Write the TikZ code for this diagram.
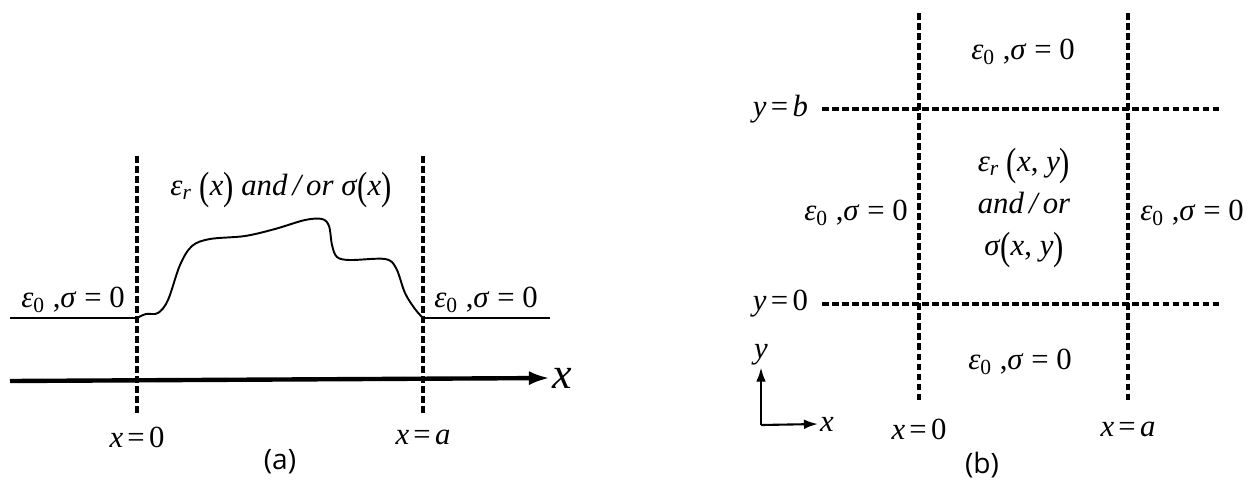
\documentclass[tikz,border=0pt]{standalone}
\usepackage{fontspec}
\usepackage{graphicx}
\setmainfont{Liberation Serif}
\newfontfamily\capfont{Open Sans}
\usetikzlibrary{arrows.meta,calc}
\newcommand{\lp}{\raisebox{-0.14em}{\scalebox{1}[1.28]{(}}}
\newcommand{\rp}{\raisebox{-0.14em}{\scalebox{1}[1.28]{)}}}
\newcommand{\eo}{\textit{ε}\textsubscript{0}}
\newcommand{\er}{\textit{ε}\textsubscript{\textit{r}}}
\newcommand{\eq}{\hspace{0.14em}=\hspace{0.14em}}
\newcommand{\vac}{\eo\ ,\textit{σ}\hspace{0.25em}=\hspace{0.25em}0}

\begin{document}
\begin{tikzpicture}[
  x=0.02cm, y=-0.02cm,
  font=\fontsize{17.5}{21}\selectfont,
  bnd/.style={line width=2.6pt, dash pattern=on 3.8pt off 1.9pt},
  gnd/.style={line width=1.1pt},
  axis/.style={line width=2.5pt, -{Latex[length=12pt,width=8pt]}},
  ax/.style={line width=1.2pt, -{Latex[length=8pt,width=5.5pt]}},
  lab/.style={inner sep=1pt},
  captxt/.style={font=\capfont\fontsize{16}{19}\selectfont},
]
\useasboundingbox (0,0) rectangle (1253,481);
% (a) one-dimensional profile
\coordinate (a0top) at (137,156);
\coordinate (a0bot) at (137,413);
\coordinate (aatop) at (423,156);
\coordinate (aabot) at (423,413);
\draw[bnd] (a0top) -- (a0bot);
\draw[bnd] (aatop) -- (aabot);
\coordinate (gl) at (10,318);
\coordinate (gr) at (550,318);
\draw[gnd] (gl) -- (a0top |- gl);
\draw[gnd] (aatop |- gr) -- (gr);
\draw[gnd] plot[smooth, tension=0.55] coordinates {(137,318) (146,314) (158,313)
  (168,300) (180,265) (192,246) (210,239) (245,236) (275,229) (305,220) (322,219)
  (329,226) (332,245) (337,257) (350,260) (385,259) (396,268) (405,293) (415,309) (423,318)};
\coordinate (xs) at (10,381);
\node[lab, anchor=west, font=\fontsize{25}{28}\selectfont] (xax) at (550,378) {\textit{x}};
\draw[axis] (xs) -- (xax.west);
\node[lab] (epsl) at (73,300) {\vac};
\node[lab] (epsr) at (486,300) {\vac};
\node[lab] (epsx) at (281,190) {\er\ \lp\textit{x}\rp\ \textit{and\,/\,or}\ \textit{σ}\lp\textit{x}\rp};
\node[lab] (xa0) at (137,437) {\textit{x}\eq0};
\node[lab] (xaa) at (423,437) {\textit{x}\eq\textit{a}};
\node[captxt] (capa) at (280,462) {(a)};
% (b) two-dimensional region
\coordinate (b0top) at (919,13);
\coordinate (b0bot) at (919,401);
\coordinate (batop) at (1128,13);
\coordinate (babot) at (1128,401);
\node[lab, anchor=east] (yb) at (810,109) {\textit{y}\eq\textit{b}};
\node[lab, anchor=east] (y0) at (810,304) {\textit{y}\eq0};
\coordinate (ybend) at (1222,109);
\coordinate (y0end) at (1222,304);
\draw[bnd] (b0top) -- (b0bot);
\draw[bnd] (batop) -- (babot);
\draw[bnd] (yb.east) ++(12,0) -- (ybend);
\draw[bnd] (y0.east) ++(12,0) -- (y0end);
\node[lab] (epst) at (1023,52) {\vac};
\node[lab] (epsw) at (856,213) {\vac};
\node[lab] (epse) at (1192,213) {\vac};
\node[lab] (epsb) at (1020,362) {\vac};
\node[lab, align=center] (epsxy) at (1024,208) {\er\ \lp\textit{x}, \textit{y}\rp\\[3pt]
  \textit{and\,/\,or}\\[3pt] \textit{σ}\lp\textit{x}, \textit{y}\rp};
\node[lab] (xb0) at (919,429) {\textit{x}\eq0};
\node[lab] (xba) at (1128,429) {\textit{x}\eq\textit{a}};
\coordinate (org) at (761,425);
\node[lab] (ylab) at (761,355) {\textit{y}};
\node[lab, anchor=west] (xlab) at (818,424) {\textit{x}};
\draw[ax] (org) -- (ylab.south);
\draw[ax] (org) -- (xlab.west);
\node[captxt] (capb) at (982,465) {(b)};
\end{tikzpicture}
\end{document}
